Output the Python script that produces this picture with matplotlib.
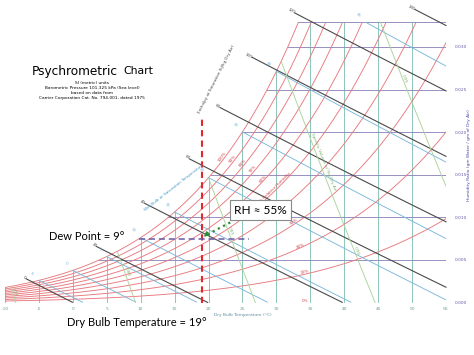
import numpy as np
import matplotlib
matplotlib.use('Agg')
import matplotlib.pyplot as plt

# chart values (SI, sea level)
P_ATM = 101.325  # kPa
db_temps = [-10, -5, 0, 5, 10, 15, 20, 25, 30, 35, 40, 45, 50, 55]
w_lines = [0.005, 0.010, 0.015, 0.020, 0.025, 0.030]
w_ticks = [0.000, 0.005, 0.010, 0.015, 0.020, 0.025, 0.030]
w_top = 0.0329
rh_levels = [10, 20, 30, 40, 50, 60, 70, 80, 90, 100]
rh_label_t = [34.2, 33.6, 32.8, 31.6, 29.8, 28.2, 26.8, 25.3, 23.8, 22.3]
enthalpy_levels = [0, 20, 40, 60, 80, 100, 120, 140]
enthalpy_label_t = [-7.9, 2.5, 9.6, 16.2, 20.7, 25.4, 31.7, 49.4]
wetbulb_temps = [-5, 0, 5, 10, 15, 20, 25, 30, 35]
volume_levels = [0.75, 0.80, 0.85, 0.90, 0.95]
volume_label_w = [0.0011, 0.0035, 0.0083, 0.0060, 0.0262]

# the worked example
dry_bulb = 19
dew_point = 9
rh_point = 55
dash_top_w = 0.0218

C_RH = '#e8787e'
C_W = '#9088bc'
C_DB = '#86c2b4'
C_H = '#4a4a4a'
C_WB = '#7ab8da'
C_V = '#aad49a'


def p_sat(t):
    return 0.61094 * np.exp(17.625 * t / (t + 243.04))


def w_from_pw(pw):
    return 0.621945 * pw / (P_ATM - pw)


def t_sat(w):
    pw = w * P_ATM / (0.621945 + w)
    a = np.log(pw / 0.61094)
    return 243.04 * a / (17.625 - a)


def screen_angle(ax, x0, y0, x1, y1):
    p0 = ax.transData.transform((x0, y0))
    p1 = ax.transData.transform((x1, y1))
    return np.degrees(np.arctan2(p1[1] - p0[1], p1[0] - p0[0]))


fig = plt.figure(figsize=(4.74, 3.55), dpi=100)
ax = fig.add_axes([5 / 474, 52.5 / 355, 441 / 474, 280.2 / 355])
ax.set_xlim(-10, 55)
ax.set_ylim(0, w_top)
for s in ax.spines.values():
    s.set_visible(False)

T = np.linspace(-10, 55, 800)

# dry bulb verticals
for t in db_temps:
    ax.plot([t, t], [0, min(w_from_pw(p_sat(t)), w_top)], color=C_DB, lw=0.65)

# humidity ratio horizontals
for w in w_lines + [w_top]:
    ax.plot([t_sat(w), 55], [w, w], color=C_W, lw=0.65)

# relative humidity curves
for rh in [0] + rh_levels:
    ww = w_from_pw(rh / 100 * p_sat(T))
    m = ww <= w_top
    ax.plot(T[m], ww[m], color=C_RH, lw=0.65)

# wet bulb lines
for twb in wetbulb_temps:
    ws = w_from_pw(p_sat(twb))
    tt = np.linspace(twb, 55, 300)
    ww = ((2501 - 2.326 * twb) * ws - 1.006 * (tt - twb)) / (2501 + 1.86 * tt - 4.186 * twb)
    m = (ww >= 0) & (ww <= w_top)
    ax.plot(tt[m], ww[m], color=C_WB, lw=0.65)
    if ws <= w_top:
        lx, ly = twb, ws
    else:
        lx, ly = tt[m][0], w_top
    ax.annotate(str(twb), (lx, ly), xytext=(-3, 3), textcoords='offset points',
                fontsize=3, color=C_WB, ha='right', va='bottom', rotation=-25)

# enthalpy lines
for h, tl in zip(enthalpy_levels, enthalpy_label_t):
    tt = np.linspace(tl + 1.0, 55, 300)
    ww = (h - 1.006 * tt) / (2501 + 1.86 * tt)
    m = ww >= 0
    ax.plot(tt[m], ww[m], color=C_H, lw=0.8, clip_on=False)
    ang = screen_angle(ax, tt[0], ww[0], tt[5], ww[5])
    ax.text(tt[0], ww[0], str(h), fontsize=3, color=C_H, ha='right', va='center',
            rotation=ang, rotation_mode='anchor')

# specific volume lines
for v, wl in zip(volume_levels, volume_label_w):
    ww = np.linspace(0, w_top, 400)
    tt = v * P_ATM / (0.287042 * (1 + 1.607858 * ww)) - 273.15
    m = (ww <= w_from_pw(p_sat(tt))) & (tt <= 55)
    ax.plot(tt[m], ww[m], color=C_V, lw=0.65)
    tl = v * P_ATM / (0.287042 * (1 + 1.607858 * wl)) - 273.15
    ang = screen_angle(ax, tt[m][0], ww[m][0], tt[m][-1], ww[m][-1])
    ax.text(tl, wl, '%.2f' % v, fontsize=3, color='#80b070', ha='center', va='bottom',
            rotation=ang + 180, rotation_mode='anchor')

# rh labels
for rh, tl in zip([0] + rh_levels, [34.2] + rh_label_t):
    wl = w_from_pw(rh / 100 * p_sat(tl))
    w2 = w_from_pw(rh / 100 * p_sat(tl + 0.3))
    ang = screen_angle(ax, tl, wl, tl + 0.3, w2)
    txt = '%d%%' % rh
    if rh == 50:
        txt = '50% Relative Humidity'
    ax.text(tl, wl, txt, fontsize=3, color='#d0404a', ha='center', va='bottom',
            rotation=ang, rotation_mode='anchor')

# rotated scale names
fig.text(217 / 474, 1 - 79 / 355, 'Enthalpy at Saturation (kJ/kg Dry Air)', fontsize=3,
         color=C_H, rotation=63, ha='center', va='center')
fig.text(174 / 474, 1 - 188 / 355, 'Wet Bulb or Saturation Temperature', fontsize=3,
         color='#4a9ac8', rotation=38, ha='center', va='center')
fig.text(324 / 474, 1 - 162 / 355, 'Specific Volume m\u00b3/kg Dry Air', fontsize=3,
         color='#80b070', rotation=-68, ha='center', va='center')

# axes ticks and labels
ax.set_xticks(db_temps)
ax.set_xticklabels([str(t) for t in db_temps])
ax.set_yticks(w_ticks)
ax.set_yticklabels(['%.3f' % w for w in w_ticks])
ax.yaxis.tick_right()
ax.tick_params(axis='x', length=0, labelsize=3.2, labelcolor='#6f9c9c', pad=3)
ax.tick_params(axis='y', length=0, labelsize=3.2, labelcolor='#6a5aa8', pad=6)
fig.text(243 / 474, 1 - 315 / 355, 'Dry Bulb Temperature (\u00b0C)', fontsize=3.2,
         color='#5f8f9f', ha='center', va='center')
fig.text(469 / 474, 1 - 155 / 355, 'Humidity Ratio (gm Water / gm of Dry Air)', fontsize=3.2,
         color='#4a4aa8', rotation=90, ha='center', va='center')

# title block
fig.text(32 / 474, 1 - 71 / 355, 'Psychrometric', fontsize=8.7, ha='left', va='center')
fig.text(153 / 474, 1 - 71.5 / 355, 'Chart', fontsize=7.8, ha='right', va='center')
sub = ['SI (metric) units', 'Barometric Pressure 101.325 kPa (Sea level)',
       'based on data from', 'Carrier Corporation Cat. No. 794-001, dated 1975']
for i, line in enumerate(sub):
    fig.text(92 / 474, 1 - (82.5 + 5.3 * i) / 355, line, fontsize=3.1, ha='center', va='center')

# worked example annotations
w_pt = w_from_pw(rh_point / 100 * p_sat(dry_bulb))
ax.plot([dry_bulb, dry_bulb], [0, dash_top_w], color='#e0282e', lw=1.5,
        ls=(0, (3, 2)), clip_on=False)
ax.plot([t_sat(w_pt), 26], [w_pt, w_pt], color='#6a5aa8', lw=1.1, ls=(0, (4, 2.5)))
ax.plot([23.2, dry_bulb + 0.6], [0.0094, w_pt + 0.0004], color='#2e8b3a', lw=1.6, ls=':')
ax.annotate('', xy=(dry_bulb, w_pt), xytext=(dry_bulb + 1.0, w_pt + 0.0007),
            arrowprops=dict(arrowstyle='-|>', color='#2e8b3a', lw=1, mutation_scale=7))
ax.text(27.6, 0.01086, 'RH \u2248 55%', fontsize=8.6, ha='center', va='center',
        family=['Lato', 'DejaVu Sans'],
        bbox=dict(boxstyle='square,pad=0.35', fc='white', ec='#8a8a8a', lw=0.8))
fig.text(87 / 474, 1 - 237 / 355, 'Dew Point = %d\u00b0' % dew_point, fontsize=8,
         ha='center', va='center', family=['Lato', 'DejaVu Sans'])
fig.text(137 / 474, 1 - 323 / 355, 'Dry Bulb Temperature = %d\u00b0' % dry_bulb, fontsize=8,
         ha='center', va='center', family=['Lato', 'DejaVu Sans'])

fig.savefig('out.png', dpi=100)
